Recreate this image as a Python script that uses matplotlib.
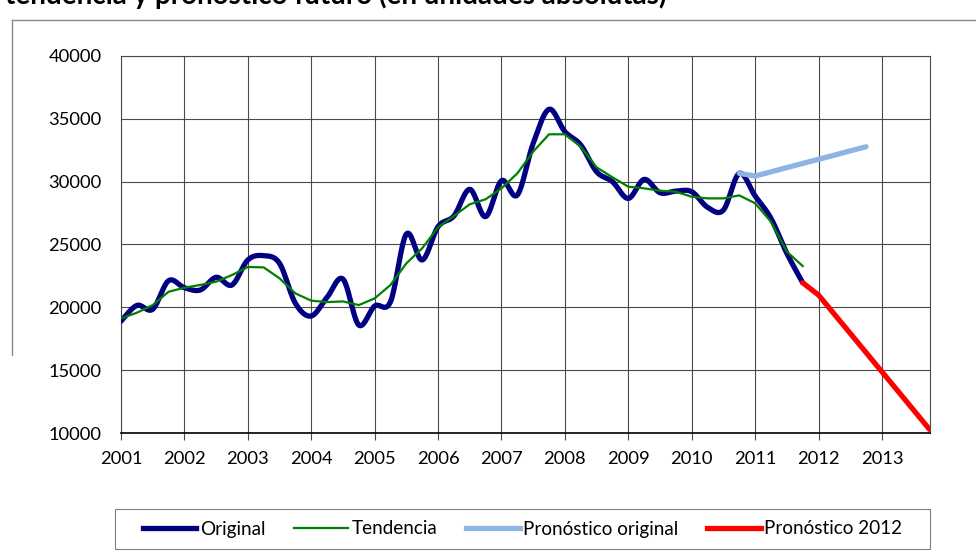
import numpy as np
import matplotlib
matplotlib.use("Agg")
import matplotlib.pyplot as plt
from matplotlib.lines import Line2D
from matplotlib.patches import Rectangle

plt.rcParams['font.family'] = ['Lato', 'DejaVu Sans']

# ---- data (quarterly, 2001Q1 .. 2013Q4) ----
years = [str(y) for y in range(2001, 2014)]
quarters = [f"{y}Q{q}" for y in range(2001, 2014) for q in range(1, 5)]

original = [18900, 20150, 19850, 22120, 21560, 21380, 22390, 21780, 23770, 24110,
            23500, 20320, 19310, 20800, 22250, 18590, 20100, 20450, 25830, 23770,
            26420, 27270, 29390, 27220, 30080, 28940, 33050, 35760, 33980, 32920,
            30790, 30000, 28670, 30180, 29120, 29250, 29200, 27960, 27740, 30660,
            28860, 27080, 24300, 21960]
tendencia = [19120, 19570, 20180, 21240, 21560, 21780, 22040, 22570, 23210, 23180,
             22310, 21110, 20530, 20420, 20470, 20180, 20710, 21780, 23500, 24700,
             26370, 27270, 28200, 28600, 29470, 30660, 32390, 33770, 33770, 32790,
             31140, 30350, 29600, 29470, 29280, 29200, 28800, 28670, 28670, 28910,
             28280, 26810, 24430, 23290]
pron_original_start = "2010Q4"
pron_original = [30660, 30450, 30780, 31120, 31450, 31780, 32110, 32450, 32780]
pron_2012_start = "2011Q4"
pron_2012 = [21960, 20980, 19450, 17930, 16400, 14870, 13350, 11820, 10290]

series_names = ["Original", "Tendencia", "Pronóstico original", "Pronóstico 2012"]
title = "tendencia y pronóstico futuro (en unidades absolutas)"


def smooth(xs, ys, n=20):
    """Excel-like smoothed line: cubic Bezier with Catmull-Rom control points."""
    xs = np.asarray(xs, float)
    ys = np.asarray(ys, float)
    px = np.concatenate([[xs[0]], xs, [xs[-1]]])
    py = np.concatenate([[ys[0]], ys, [ys[-1]]])
    outx, outy = [], []
    t = np.linspace(0, 1, n, endpoint=False)
    for i in range(len(xs) - 1):
        p0 = np.array([px[i + 1], py[i + 1]])
        p3 = np.array([px[i + 2], py[i + 2]])
        c1 = p0 + (p3 - np.array([px[i], py[i]])) / 6.0
        c2 = p3 - (np.array([px[i + 3], py[i + 3]]) - p0) / 6.0
        b = (((1 - t) ** 3)[:, None] * p0 + (3 * (1 - t) ** 2 * t)[:, None] * c1
             + (3 * (1 - t) * t ** 2)[:, None] * c2 + (t ** 3)[:, None] * p3)
        outx.extend(b[:, 0]); outy.extend(b[:, 1])
    outx.append(xs[-1]); outy.append(ys[-1])
    return np.array(outx), np.array(outy)


W, H = 976, 559
fig = plt.figure(figsize=(W / 100, H / 100), dpi=100)
L, R, T, B = 121, 929.5, 56, 433
ax = fig.add_axes([L / W, 1 - B / H, (R - L) / W, (B - T) / H])

xi = np.arange(len(quarters))
x_orig = xi[:len(original)]
x_tend = xi[:len(tendencia)]
s0 = quarters.index(pron_original_start)
x_po = xi[s0:s0 + len(pron_original)]
s1 = quarters.index(pron_2012_start)
x_p12 = xi[s1:s1 + len(pron_2012)]

sx, sy = smooth(x_orig, original)
ax.plot(sx, sy, color='#000080', lw=3.8, solid_capstyle='round', zorder=3,
        label=series_names[0])
ax.plot(x_tend, tendencia, color='#008000', lw=1.6, zorder=4, label=series_names[1])
ax.plot(x_po, pron_original, color='#8EB4E3', lw=3.8, solid_capstyle='round',
        zorder=5, label=series_names[2])
ax.plot(x_p12, pron_2012, color='#FF0000', lw=3.8, solid_capstyle='round',
        zorder=6, label=series_names[3])

ax.set_xlim(0, len(quarters) - 1)
ax.set_ylim(10000, 40000)
ax.set_yticks(np.arange(10000, 40001, 5000))
ax.set_xticks(xi[::4])
ax.set_xticklabels(years)
ax.grid(True, color='#4a4a4a', lw=0.8)
ax.set_axisbelow(True)
for s in ['top', 'right', 'left']:
    ax.spines[s].set_color('#4a4a4a')
    ax.spines[s].set_linewidth(0.8)
ax.spines['bottom'].set_color('black')
ax.spines['bottom'].set_linewidth(1.2)
ax.tick_params(axis='x', length=5, width=0.8, color='#4a4a4a', pad=8, labelsize=13.2)
ax.tick_params(axis='y', length=0, pad=14, labelsize=13.2)

# legend
handles = [Line2D([], [], color='#000080', lw=3.8),
           Line2D([], [], color='#008000', lw=1.6),
           Line2D([], [], color='#8EB4E3', lw=3.8),
           Line2D([], [], color='#FF0000', lw=3.8)]
leg = fig.legend(handles, series_names, loc='center', ncol=4,
                 bbox_to_anchor=(((115 + 930) / 2) / W, 1 - 529 / H),
                 frameon=False, fontsize=13.6, handlelength=2.85,
                 handletextpad=0.2, columnspacing=1.5)
fig.add_artist(Rectangle((115 / W, 1 - 549 / H), (930 - 115) / W, 40 / H,
                         transform=fig.transFigure, fill=False,
                         edgecolor='#7f7f7f', lw=0.8))

# chart-area border (partially visible)
fig.add_artist(Line2D([12 / W, 1.0], [1 - 20 / H, 1 - 20 / H],
                      transform=fig.transFigure, color='#8a8a8a', lw=1))
fig.add_artist(Line2D([12 / W, 12 / W], [1 - 20 / H, 1 - 355 / H],
                      transform=fig.transFigure, color='#8a8a8a', lw=1))

fig.text(5 / W, 1 - 4 / H, title, fontsize=20, fontweight='bold',
         ha='left', va='baseline')

fig.savefig('out.png', dpi=100)
